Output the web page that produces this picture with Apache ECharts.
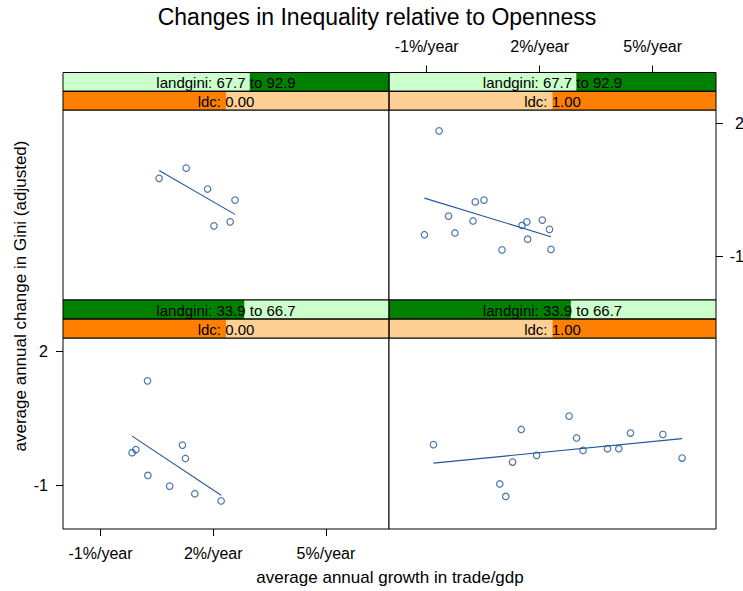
<!DOCTYPE html>
<html>
<head>
<meta charset="utf-8">
<script src="https://cdn.jsdelivr.net/npm/echarts@6/dist/echarts.min.js"></script>
<style>
html,body{margin:0;padding:0;background:#fff;}
#chart{width:743px;height:591px;}
</style>
</head>
<body>
<div id="chart"></div>
<script>
// ---------------- data ----------------
const xTicks = [-1, 2, 5];
const yTicks = [-1, 2];
const landginiRange = [33.9, 92.9];
const landginiLevels = [[33.9, 66.7], [67.7, 92.9]];
const ldcLevels = ['0.00', '1.00'];

// top-left: landgini 67.7-92.9, ldc 0
const hiGini_ldc0_x = [0.56, 1.28, 1.85, 2.58, 2.02, 2.45];
const hiGini_ldc0_y = [0.76, 0.99, 0.52, 0.27, -0.31, -0.22];
// top-right: landgini 67.7-92.9, ldc 1
const hiGini_ldc1_x = [-0.67, -1.06, -0.42, -0.25, 0.23, 0.29, 0.52, 1.00, 1.53, 1.66, 1.68, 2.07, 2.26, 2.30];
const hiGini_ldc1_y = [1.83, -0.51, -0.09, -0.47, -0.20, 0.23, 0.27, -0.85, -0.30, -0.22, -0.61, -0.18, -0.39, -0.84];
// bottom-left: landgini 33.9-66.7, ldc 0
const loGini_ldc0_x = [0.25, -0.16, -0.06, 1.18, 1.26, 0.26, 0.84, 1.51, 2.21];
const loGini_ldc0_y = [1.34, -0.27, -0.20, -0.10, -0.40, -0.78, -1.02, -1.19, -1.35];
// bottom-right: landgini 33.9-66.7, ldc 1
const loGini_ldc1_x = [-0.82, 0.94, 1.10, 1.28, 1.51, 1.92, 2.78, 2.98, 3.15, 3.80, 4.10, 4.41, 5.27, 5.78];
const loGini_ldc1_y = [-0.09, -0.97, -1.25, -0.48, 0.25, -0.33, 0.55, 0.06, -0.22, -0.18, -0.18, 0.17, 0.14, -0.39];

// ---------------- layout ----------------
const XMIN = -2, XMAX = 6.68, YMIN = -1.98, YMAX = 2.3;
const COLS = [{left: 63, width: 326}, {left: 389, width: 327}];
const ROWS = [{stripTop: 72.5, plotTop: 110, height: 190}, {stripTop: 300, plotTop: 338, height: 191}];
const FONT = '"Liberation Sans", Arial, Helvetica, sans-serif';
const PT_COLOR = '#20569A';

const panels = [
  {x: hiGini_ldc0_x, y: hiGini_ldc0_y, gini: 1, ldc: 0, col: 0, row: 0},
  {x: hiGini_ldc1_x, y: hiGini_ldc1_y, gini: 1, ldc: 1, col: 1, row: 0},
  {x: loGini_ldc0_x, y: loGini_ldc0_y, gini: 0, ldc: 0, col: 0, row: 1},
  {x: loGini_ldc1_x, y: loGini_ldc1_y, gini: 0, ldc: 1, col: 1, row: 1}
];

function fitLine(xs, ys) {
  const n = xs.length;
  const mx = xs.reduce((a, b) => a + b, 0) / n;
  const my = ys.reduce((a, b) => a + b, 0) / n;
  let sxy = 0, sxx = 0;
  for (let i = 0; i < n; i++) { sxy += (xs[i] - mx) * (ys[i] - my); sxx += (xs[i] - mx) ** 2; }
  const b = sxy / sxx, a = my - b * mx;
  const x0 = Math.min(...xs), x1 = Math.max(...xs);
  return [[x0, a + b * x0], [x1, a + b * x1]];
}

const grids = [], xAxes = [], yAxes = [], series = [], graphics = [];

const hidden = {show: false};
const noLine = {show: false, onZero: false};
panels.forEach((p, i) => {
  const c = COLS[p.col], r = ROWS[p.row];
  grids.push({left: c.left, top: r.plotTop, width: c.width, height: r.height,
    show: true, borderColor: '#000', borderWidth: 1, backgroundColor: '#fff',
    containLabel: false, outerBoundsMode: 'none'});

  const xa = {gridIndex: i, type: 'value', min: XMIN, max: XMAX,
    axisLine: noLine, splitLine: hidden, axisTick: hidden, axisLabel: hidden};
  const ya = {gridIndex: i, type: 'value', min: YMIN, max: YMAX,
    axisLine: noLine, splitLine: hidden, axisTick: hidden, axisLabel: hidden};

  const tickStyle = {show: true, length: 7, lineStyle: {color: '#000', width: 1}};
  if (p.col === 1 && p.row === 0) {
    Object.assign(xa, {position: 'top', offset: r.plotTop - r.stripTop,
      axisTick: Object.assign({customValues: xTicks}, tickStyle),
      axisLabel: {show: true, customValues: xTicks, formatter: v => v + '%/year',
        margin: 18, fontSize: 16, color: '#000', fontFamily: FONT}});
    Object.assign(ya, {position: 'right',
      axisTick: Object.assign({customValues: yTicks}, tickStyle),
      axisLabel: {show: true, customValues: yTicks, align: 'right', margin: 28,
        fontSize: 16, color: '#000', fontFamily: FONT}});
  }
  if (p.col === 0 && p.row === 1) {
    Object.assign(xa, {position: 'bottom',
      axisTick: Object.assign({customValues: xTicks}, tickStyle),
      axisLabel: {show: true, customValues: xTicks, formatter: v => v + '%/year',
        margin: 16, fontSize: 16, color: '#000', fontFamily: FONT}});
    Object.assign(ya, {position: 'left',
      axisTick: Object.assign({customValues: yTicks}, tickStyle),
      axisLabel: {show: true, customValues: yTicks, align: 'right', margin: 15,
        fontSize: 16, color: '#000', fontFamily: FONT}});
  }
  xAxes.push(xa); yAxes.push(ya);

  series.push({type: 'scatter', xAxisIndex: i, yAxisIndex: i,
    data: p.x.map((v, k) => [v, p.y[k]]),
    symbol: 'circle', symbolSize: 6.5,
    itemStyle: {color: 'rgba(0,0,0,0)', borderColor: PT_COLOR, borderWidth: 1.2},
    silent: true});
  series.push({type: 'line', xAxisIndex: i, yAxisIndex: i,
    data: fitLine(p.x, p.y), showSymbol: false, symbol: 'none',
    lineStyle: {color: PT_COLOR, width: 1.1}, silent: true});

  // strips
  const sh = (r.plotTop - r.stripTop) / 2;
  const lv = landginiLevels[p.gini];
  const f0 = (lv[0] - landginiRange[0]) / (landginiRange[1] - landginiRange[0]);
  const f1 = (lv[1] - landginiRange[0]) / (landginiRange[1] - landginiRange[0]);
  const strips = [
    {y: r.stripTop, bg: '#CCFFCC', hi: '#008000', f0: f0, f1: f1,
     text: 'landgini: ' + lv[0].toFixed(1) + ' to ' + lv[1].toFixed(1)},
    {y: r.stripTop + sh, bg: '#FFD093', hi: '#FF8000',
     f0: p.ldc / ldcLevels.length, f1: (p.ldc + 1) / ldcLevels.length,
     text: 'ldc: ' + ldcLevels[p.ldc]}
  ];
  strips.forEach(s => {
    graphics.push({type: 'rect', shape: {x: c.left, y: s.y, width: c.width, height: sh},
      style: {fill: s.bg}, z: 10});
    graphics.push({type: 'rect', shape: {x: c.left + s.f0 * c.width, y: s.y,
      width: (s.f1 - s.f0) * c.width, height: sh}, style: {fill: s.hi}, z: 11});
    graphics.push({type: 'rect', shape: {x: c.left, y: s.y, width: c.width, height: sh},
      style: {fill: 'none', stroke: '#000', lineWidth: 1}, z: 12});
    graphics.push({type: 'text', x: c.left + c.width / 2, y: s.y + sh / 2 + 0.5, z: 13,
      style: {text: s.text, fontSize: 15, fontFamily: FONT, fill: '#000',
        textAlign: 'center', textVerticalAlign: 'middle'}});
  });
});

graphics.push({type: 'text', x: 377, y: 17, z: 20,
  style: {text: 'Changes in Inequality relative to Openness', fontSize: 23, fontFamily: FONT,
    fill: '#000', textAlign: 'center', textVerticalAlign: 'middle'}});
graphics.push({type: 'text', x: 390, y: 577, z: 20,
  style: {text: 'average annual growth in trade/gdp', fontSize: 17, fontFamily: FONT,
    fill: '#000', textAlign: 'center', textVerticalAlign: 'middle'}});
graphics.push({type: 'text', x: 20, y: 296, rotation: Math.PI / 2, z: 20,
  style: {text: 'average annual change in Gini (adjusted)', fontSize: 17, fontFamily: FONT,
    fill: '#000', textAlign: 'center', textVerticalAlign: 'middle'}});

const chart = echarts.init(document.getElementById('chart'), null, {renderer: 'svg'});
chart.setOption({
  animation: false,
  backgroundColor: '#fff',
  grid: grids,
  xAxis: xAxes,
  yAxis: yAxes,
  series: series,
  graphic: graphics
});
</script>
</body>
</html>
